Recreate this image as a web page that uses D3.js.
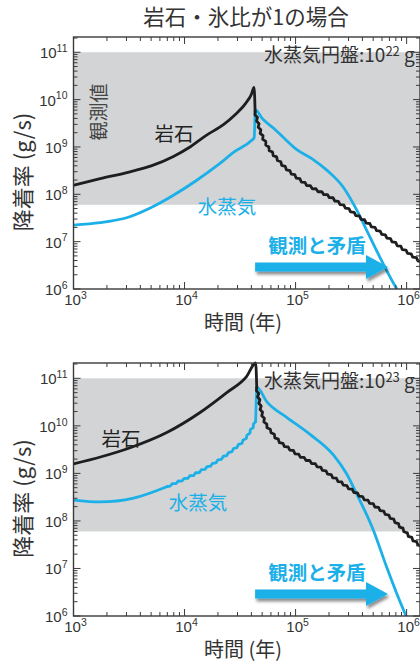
<!DOCTYPE html>
<html><head><meta charset="utf-8">
<script src="https://cdn.jsdelivr.net/npm/d3@7"></script>
<style>
html,body{margin:0;padding:0;background:#fff;}
svg{display:block;}
text{font-family:"Liberation Sans",Arial,sans-serif;}
.jp{font-family:"Noto Sans CJK JP","Noto Sans CJK SC",sans-serif;}
</style></head><body>
<svg id="chart" width="420" height="665"></svg>
<script>
// ---- data (time in years, accretion rate in g/s) ----
const titleText = "岩石・氷比が1の場合";
const xTickValues = [1e3, 1e4, 1e5, 1e6];
const yTickValues = [1e6, 1e7, 1e8, 1e9, 1e10, 1e11];
const xDomain = [1e3, 1.32e6];
const yDomain = [1e6, 2.1e11];
const observedRange = [6e7, 1e11];           // shaded band of observed rates
const diskMassExponents = ["22", "23"];

// water-vapour disk 10^22 g
const rockTime22 = [1.0e3, 1.74e3, 3.16e3, 5.01e3, 7.94e3, 1.12e4, 1.58e4, 2.24e4, 2.82e4, 3.55e4, 3.98e4, 4.23e4,
  4.32e4, 4.79e4, 5.50e4, 6.76e4, 1.10e5, 2.19e5, 3.55e5, 6.61e5, 1.26e6, 1.35e6];
const rockRate22 = [1.55e8, 2.14e8, 2.95e8, 3.98e8, 6.31e8, 1.0e9, 1.78e9, 2.95e9, 4.68e9, 8.32e9, 1.26e10, 1.82e10,
  5.62e9, 2.24e9, 1.10e9, 5.75e8, 2.0e8, 7.94e7, 3.63e7, 1.26e7, 4.17e6, 3.72e6];
const waterTime22 = [1.0e3, 1.74e3, 3.16e3, 5.01e3, 7.94e3, 1.26e4, 2.0e4, 2.82e4, 3.98e4, 4.24e4, 4.34e4,
  5.01e4, 6.31e4, 7.94e4, 1.02e5, 1.41e5, 1.91e5, 2.69e5, 3.55e5, 4.37e5, 5.75e5, 7.59e5, 8.91e5];
const waterRate22 = [2.24e7, 2.51e7, 3.31e7, 5.25e7, 9.55e7, 1.91e8, 4.17e8, 7.94e8, 1.35e9, 1.58e9, 6.03e9,
  3.98e9, 2.51e9, 1.51e9, 8.91e8, 5.62e8, 3.24e8, 1.41e8, 4.68e7, 1.74e7, 4.68e6, 1.35e6, 7.08e5];

// water-vapour disk 10^23 g
const rockTime23 = [1.0e3, 1.78e3, 3.24e3, 6.92e3, 1.38e4, 2.40e4, 3.63e4, 4.37e4,
  4.47e4, 5.01e4, 6.31e4, 9.55e4, 1.66e5, 2.19e5, 3.80e5, 7.59e5, 1.23e6, 1.35e6];
const rockRate23 = [1.58e9, 2.24e9, 3.47e9, 7.24e9, 1.91e10, 5.01e10, 1.10e11, 2.1e11,
  6.46e10, 1.74e10, 6.61e9, 2.88e9, 1.32e9, 8.32e8, 3.39e8, 1.05e8, 3.47e7, 2.95e7];
const waterTime23 = [1.0e3, 1.74e3, 3.47e3, 6.92e3, 1.20e4, 1.95e4, 2.75e4, 3.63e4, 4.37e4, 4.49e4,
  5.50e4, 8.32e4, 1.35e5, 2.19e5, 2.88e5, 3.55e5, 5.01e5, 6.61e5, 8.13e5, 1.0e6, 1.07e6];
const waterRate23 = [2.75e8, 2.51e8, 3.02e8, 5.25e8, 9.33e8, 1.78e9, 3.16e9, 5.89e9, 1.23e10, 6.46e10,
  3.24e10, 1.51e10, 6.61e9, 2.45e9, 9.8e8, 3.7e8, 6.46e7, 1.07e7, 3.02e6, 9.33e5, 6.31e5];

// ---- layout & style ----
const BLUE = "#1cb0e8", INK = "#1e1e1e", AXIS = "#3a3a3a", BAND = "#d3d4d6";
const left = 73.5, right = 420;
const panels = [
  {top: 37, bottom: 289, exp: diskMassExponents[0],
   series: [
     {t: waterTime22, v: waterRate22, color: BLUE, jag: []},
     {t: rockTime22, v: rockRate22, color: INK, jag: [[12, rockTime22.length - 1, 0.9]]}
   ],
   rockLabel: [174, 141], waterLabel: [227, 214]},
  {top: 363, bottom: 616, exp: diskMassExponents[1],
   series: [
     {t: waterTime23, v: waterRate23, color: BLUE, jag: [[3, 8, 0.75]]},
     {t: rockTime23, v: rockRate23, color: INK, jag: [[8, rockTime23.length - 1, 0.9]]}
   ],
   rockLabel: [121, 446], waterLabel: [198, 510]}
];

const svg = d3.select("#chart");
const defs = svg.append("defs");
const shadow = defs.append("filter").attr("id", "shadow").attr("x", "-20%").attr("y", "-50%").attr("width", "140%").attr("height", "220%");
shadow.append("feDropShadow").attr("dx", 1.5).attr("dy", 3).attr("stdDeviation", 1.6)
  .attr("flood-color", "#000").attr("flood-opacity", 0.45);

svg.append("text").attr("class", "jp").attr("x", 246).attr("y", 25)
  .attr("text-anchor", "middle").attr("font-size", 21.5).attr("fill", "#333").text(titleText);

// serrated rendering of a path (texture of the numerical output)
function jaggedPath(d, amp, step) {
  const tmp = svg.append("path").attr("d", d).attr("visibility", "hidden");
  const node = tmp.node(), L = node.getTotalLength();
  const n = Math.max(2, Math.round(L / step));
  const pts = [];
  for (let i = 0; i <= n; i++) {
    const l = L * i / n;
    const p = node.getPointAtLength(l);
    const a = node.getPointAtLength(Math.max(0, l - 0.6));
    const b = node.getPointAtLength(Math.min(L, l + 0.6));
    const dx = b.x - a.x, dy = b.y - a.y, len = Math.hypot(dx, dy) || 1;
    const s = (i === 0 || i === n) ? 0 : (i % 2 ? amp : -amp);
    pts.push([p.x - dy / len * s, p.y + dx / len * s]);
  }
  tmp.remove();
  return d3.line()(pts);
}

function supLabel(sel, base, sup, size, supSize) {
  sel.append("tspan").text(base);
  sel.append("tspan").attr("font-size", supSize).attr("dy", -size * 0.42).text(sup);
}

panels.forEach((P, pi) => {
  const x = d3.scaleLog().domain(xDomain).range([left, right]);
  const y = d3.scaleLog().domain(yDomain).range([P.bottom, P.top]);
  const g = svg.append("g");
  const clipId = "clip" + pi;
  defs.append("clipPath").attr("id", clipId).append("rect")
    .attr("x", left).attr("y", P.top - 2).attr("width", right - left).attr("height", P.bottom - P.top + 2);

  // observed band
  g.append("rect").attr("x", left).attr("width", right - left)
    .attr("y", y(observedRange[1])).attr("height", y(observedRange[0]) - y(observedRange[1]))
    .attr("fill", BAND);

  // curves
  const cg = g.append("g").attr("clip-path", `url(#${clipId})`);
  const line = d3.line().x(d => x(d[0])).y(d => y(d[1])).curve(d3.curveMonotoneX);
  P.series.forEach(s => {
    const pts = s.t.map((t, i) => [t, s.v[i]]);
    const cuts = [0];
    s.jag.forEach(j => { cuts.push(j[0], j[1]); });
    cuts.push(pts.length - 1);
    for (let k = 0; k < cuts.length - 1; k++) {
      const a = cuts[k], b = cuts[k + 1];
      if (b <= a) continue;
      const piece = pts.slice(a, b + 1);
      const jag = s.jag.find(j => j[0] === a && j[1] === b);
      let d = line(piece);
      if (jag) d = jaggedPath(d, jag[2], 3.2);
      cg.append("path").attr("d", d).attr("fill", "none").attr("stroke", s.color)
        .attr("stroke-width", 2.8).attr("stroke-linejoin", "round").attr("stroke-linecap", "round");
    }
  });

  // frame
  g.append("rect").attr("x", left).attr("y", P.top).attr("width", right - left).attr("height", P.bottom - P.top)
    .attr("fill", "none").attr("stroke", AXIS).attr("stroke-width", 1.4);

  // ticks (inward, on all four sides)
  const tk = g.append("g").attr("stroke", AXIS).attr("stroke-width", 1);
  for (let e = 3; e <= 6; e++) for (let m = 1; m <= 9; m++) {
    const v = m * Math.pow(10, e);
    if (v > xDomain[1]) continue;
    const xx = x(v), L = m === 1 ? 7 : 4;
    tk.append("line").attr("x1", xx).attr("x2", xx).attr("y1", P.bottom).attr("y2", P.bottom - L);
    tk.append("line").attr("x1", xx).attr("x2", xx).attr("y1", P.top).attr("y2", P.top + L);
  }
  for (let e = 6; e <= 11; e++) for (let m = 1; m <= 9; m++) {
    const v = m * Math.pow(10, e);
    if (v > yDomain[1]) continue;
    const yy = y(v), L = m === 1 ? 7 : 4;
    tk.append("line").attr("y1", yy).attr("y2", yy).attr("x1", left).attr("x2", left + L);
    tk.append("line").attr("y1", yy).attr("y2", yy).attr("x1", right).attr("x2", right - L);
  }

  // tick labels
  xTickValues.forEach(v => {
    const t = g.append("text").attr("x", x(v) + 2).attr("y", P.bottom + 16)
      .attr("text-anchor", "middle").attr("font-size", 15).attr("fill", "#333");
    supLabel(t, "10", String(Math.round(Math.log10(v))), 15, 10.5);
  });
  yTickValues.forEach(v => {
    const t = g.append("text").attr("x", left - 6).attr("y", y(v) + 6)
      .attr("text-anchor", "end").attr("font-size", 15).attr("fill", "#333");
    supLabel(t, "10", String(Math.round(Math.log10(v))), 15, 10.5);
  });

  // axis titles
  g.append("text").attr("class", "jp").attr("x", 243).attr("y", P.bottom + 41)
    .attr("text-anchor", "middle").attr("font-size", 20).attr("fill", "#333").text("時間 (年)");
  g.append("text").attr("class", "jp")
    .attr("transform", `translate(21,${(P.top + P.bottom) / 2 + 9}) rotate(-90)`)
    .attr("text-anchor", "middle").attr("dominant-baseline", "central")
    .attr("font-size", 22).attr("fill", "#333").text("降着率 (g/s)");

  // disk mass label
  const dl = g.append("text").attr("class", "jp").attr("x", 264).attr("y", P.top + 25)
    .attr("font-size", 19).attr("fill", "#333");
  dl.append("tspan").text("水蒸気円盤:10");
  dl.append("tspan").attr("font-size", 13).attr("dy", -6).text(P.exp);
  dl.append("tspan").attr("dy", 6).text(" g");

  // series labels
  g.append("text").attr("class", "jp").attr("x", P.rockLabel[0]).attr("y", P.rockLabel[1])
    .attr("text-anchor", "middle").attr("font-size", 19.5).attr("fill", "#222").text("岩石");
  g.append("text").attr("class", "jp").attr("x", P.waterLabel[0]).attr("y", P.waterLabel[1])
    .attr("text-anchor", "middle").attr("font-size", 19.5).attr("fill", BLUE).text("水蒸気");
  if (pi === 0) {
    g.append("text").attr("class", "jp")
      .attr("transform", `translate(97,${y(5.5e9)}) rotate(-90)`)
      .attr("text-anchor", "middle").attr("dominant-baseline", "central")
      .attr("font-size", 19).attr("fill", "#444").text("観測値");
  }

  // conflict annotation + arrow
  g.append("text").attr("class", "jp").attr("x", 317).attr("y", y(5.8e6))
    .attr("text-anchor", "middle").attr("font-size", 19.5).attr("font-weight", "bold")
    .attr("fill", BLUE).text("観測と矛盾");
  const ax0 = x(4.32e4), ax1 = x(6.8e5), ay = y(2.9e6);
  const sh = 4.5, hh = 12, hl = 22;
  g.append("path").attr("filter", "url(#shadow)").attr("fill", BLUE)
    .attr("d", `M${ax0},${ay - sh}L${ax1 - hl},${ay - sh}L${ax1 - hl},${ay - hh}L${ax1},${ay}` +
      `L${ax1 - hl},${ay + hh}L${ax1 - hl},${ay + sh}L${ax0},${ay + sh}Z`);
});
</script>
</body></html>
